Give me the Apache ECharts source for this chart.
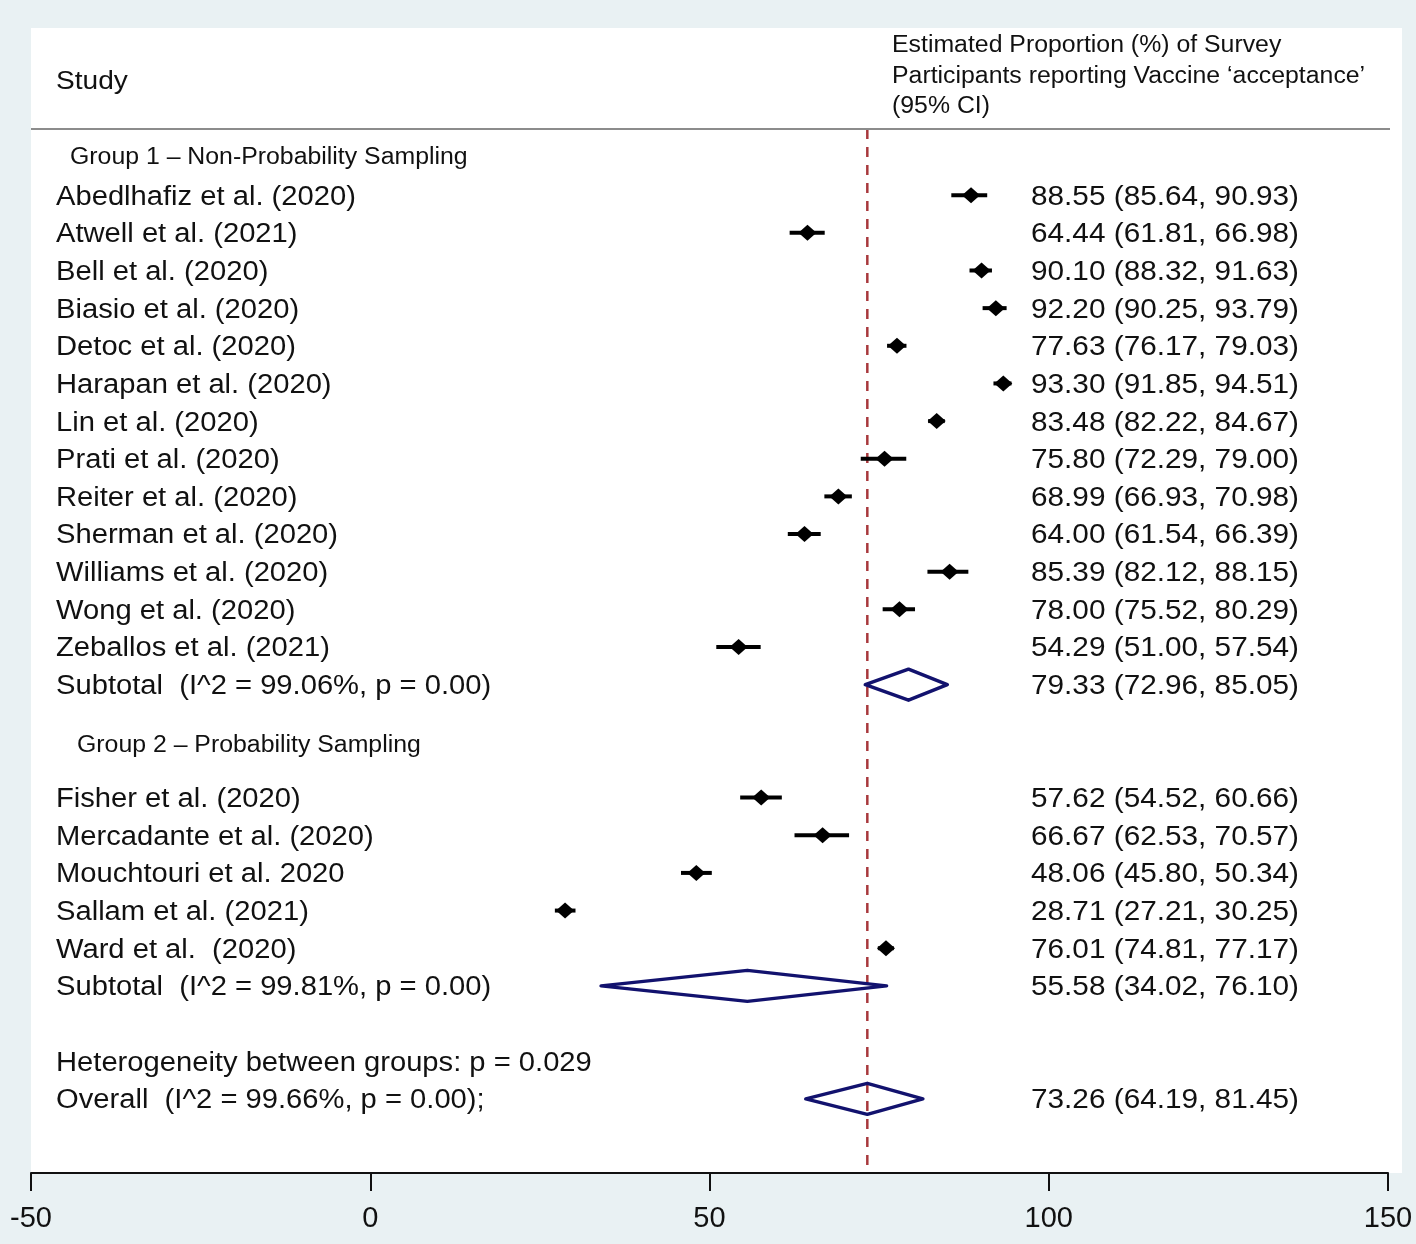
<!DOCTYPE html>
<html>
<head>
<meta charset="utf-8">
<script src="https://cdn.jsdelivr.net/npm/echarts@6/dist/echarts.min.js"></script>
<style>
html,body{margin:0;padding:0;background:#e9f1f3;}
#chart{width:1416px;height:1244px;}
</style>
</head>
<body>
<div id="chart"></div>
<script>
// ---------- data ----------
const headerLeft = 'Study';
const headerRight = ['Estimated Proportion (%) of Survey', 'Participants reporting Vaccine \u2018acceptance\u2019', '(95% CI)'];

const group1Title = 'Group 1 \u2013 Non-Probability Sampling';
const group1Studies = ['Abedlhafiz et al. (2020)', 'Atwell et al. (2021)', 'Bell et al. (2020)', 'Biasio et al. (2020)',
  'Detoc et al. (2020)', 'Harapan et al. (2020)', 'Lin et al. (2020)', 'Prati et al. (2020)', 'Reiter et al. (2020)',
  'Sherman et al. (2020)', 'Williams et al. (2020)', 'Wong et al. (2020)', 'Zeballos et al. (2021)'];
const group1Est = [88.55, 64.44, 90.10, 92.20, 77.63, 93.30, 83.48, 75.80, 68.99, 64.00, 85.39, 78.00, 54.29];
const group1Lo  = [85.64, 61.81, 88.32, 90.25, 76.17, 91.85, 82.22, 72.29, 66.93, 61.54, 82.12, 75.52, 51.00];
const group1Hi  = [90.93, 66.98, 91.63, 93.79, 79.03, 94.51, 84.67, 79.00, 70.98, 66.39, 88.15, 80.29, 57.54];
const group1SubtotalLabel = 'Subtotal  (I^2 = 99.06%, p = 0.00)';
const group1Subtotal = [79.33, 72.96, 85.05];

const group2Title = 'Group 2 \u2013 Probability Sampling';
const group2Studies = ['Fisher et al. (2020)', 'Mercadante et al. (2020)', 'Mouchtouri et al. 2020', 'Sallam et al. (2021)', 'Ward et al.  (2020)'];
const group2Est = [57.62, 66.67, 48.06, 28.71, 76.01];
const group2Lo  = [54.52, 62.53, 45.80, 27.21, 74.81];
const group2Hi  = [60.66, 70.57, 50.34, 30.25, 77.17];
const group2SubtotalLabel = 'Subtotal  (I^2 = 99.81%, p = 0.00)';
const group2Subtotal = [55.58, 34.02, 76.10];

const heterogeneityLabel = 'Heterogeneity between groups: p = 0.029';
const overallLabel = 'Overall  (I^2 = 99.66%, p = 0.00);';
const overall = [73.26, 64.19, 81.45];

const xTicks = [-50, 0, 50, 100, 150];

// ---------- layout (rows) ----------
const FONT = '"Liberation Sans", Arial, Helvetica, sans-serif';
const rows = [];
let pos = 0;
rows.push({kind: 'group', pos: -1.05, text: group1Title, indent: 39});
group1Studies.forEach((s, i) => { rows.push({kind: 'study', pos: pos++, text: s, est: group1Est[i], lo: group1Lo[i], hi: group1Hi[i]}); });
rows.push({kind: 'pooled', pos: pos, text: group1SubtotalLabel, est: group1Subtotal[0], lo: group1Subtotal[1], hi: group1Subtotal[2]});
rows.push({kind: 'group', pos: pos + 1.56, text: group2Title, indent: 46});
pos += 3;
group2Studies.forEach((s, i) => { rows.push({kind: 'study', pos: pos++, text: s, est: group2Est[i], lo: group2Lo[i], hi: group2Hi[i]}); });
rows.push({kind: 'pooled', pos: pos, text: group2SubtotalLabel, est: group2Subtotal[0], lo: group2Subtotal[1], hi: group2Subtotal[2]});
pos += 2;
rows.push({kind: 'note', pos: pos++, text: heterogeneityLabel});
rows.push({kind: 'pooled', pos: pos, text: overallLabel, est: overall[0], lo: overall[1], hi: overall[2]});

const Y_MIN = -4.44, Y_MAX = 25.97, HEADER_LINE_ROW = -1.757;
const GRID_LEFT = 31, TEXT_LEFT = 56, VALUE_LEFT = 1031, SX = 1.08, SX_VAL = 1.102, DY = 2;

function fmt(v) { return v.toFixed(2); }

function txt(x, y, text, size, sx) {
  return {type: 'text', x: x, y: y + DY, scaleX: sx || SX,
    style: {text: text, x: 0, y: 0, fontSize: size, fontFamily: FONT, fill: '#111', verticalAlign: 'middle', align: 'left'}};
}

const chart = echarts.init(document.getElementById('chart'), null, {renderer: 'canvas'});

function headText(x, y, text, size) {
  return {type: 'text', x: x, y: y + DY, scaleX: SX, z: 5,
    style: {text: text, fontSize: size, fontFamily: FONT, fill: '#111', verticalAlign: 'middle'}};
}

const option = {
  backgroundColor: '#e9f1f3',
  animation: false,
  grid: {left: GRID_LEFT, right: 28, top: 28, bottom: 71, show: false},
  xAxis: {
    type: 'value', min: xTicks[0], max: xTicks[xTicks.length - 1], interval: 50,
    axisLine: {show: true, onZero: false, lineStyle: {color: '#111', width: 2}},
    axisTick: {show: true, length: 18, lineStyle: {color: '#111', width: 2}},
    axisLabel: {fontSize: 29, fontFamily: FONT, color: '#111', margin: 31},
    splitLine: {show: false}
  },
  yAxis: {type: 'value', min: Y_MIN, max: Y_MAX, inverse: true, show: false},
  graphic: [
    {type: 'rect', z: -10, shape: {x: 31, y: 28, width: 1371, height: 1145}, style: {fill: '#ffffff'}},
    {type: 'line', z: 5, shape: {x1: 31, y1: 129, x2: 1390, y2: 129}, style: {stroke: '#8c8c8c', lineWidth: 2}},
    headText(TEXT_LEFT, 80, headerLeft, 26),
    headText(892, 44, headerRight[0], 23),
    headText(892, 75, headerRight[1], 23),
    headText(892, 105, headerRight[2], 23)
  ],
  series: [
    {
      type: 'line',
      data: [[overall[0], HEADER_LINE_ROW], [overall[0], Y_MAX]],
      symbol: 'none',
      lineStyle: {color: '#a8383c', width: 2.5, type: [10, 8]},
      z: 1,
      silent: true
    },
    {
      type: 'custom',
      z: 3,
      clip: false,
      data: rows.map(r => [r.est || 0, r.pos, r.lo || 0, r.hi || 0]),
      encode: {x: [0, 2, 3], y: 1},
      renderItem: function (params, api) {
        const r = rows[params.dataIndex];
        const y = api.coord([0, r.pos])[1];
        const children = [];
        if (r.kind === 'group') {
          children.push(txt(GRID_LEFT + r.indent, y, r.text, 23));
          return {type: 'group', children: children};
        }
        children.push(txt(TEXT_LEFT, y, r.text, 27));
        if (r.kind === 'note') return {type: 'group', children: children};
        const xe = api.coord([r.est, r.pos])[0];
        const xl = api.coord([r.lo, r.pos])[0];
        const xh = api.coord([r.hi, r.pos])[0];
        children.push(txt(VALUE_LEFT, y, fmt(r.est) + ' (' + fmt(r.lo) + ', ' + fmt(r.hi) + ')', 27, SX_VAL));
        if (r.kind === 'study') {
          children.push({type: 'line', shape: {x1: xl, y1: y, x2: xh, y2: y}, style: {stroke: '#000', lineWidth: 4}});
          children.push({type: 'polygon', shape: {points: [[xe - 9, y], [xe, y - 8], [xe + 9, y], [xe, y + 8]]}, style: {fill: '#000'}});
        } else {
          children.push({type: 'polygon', shape: {points: [[xl, y], [xe, y - 15.5], [xh, y], [xe, y + 15.5]]},
            style: {fill: 'none', stroke: '#12126e', lineWidth: 3.5, lineJoin: 'round'}});
        }
        return {type: 'group', children: children};
      }
    }
  ]
};
chart.setOption(option);
</script>
</body>
</html>
